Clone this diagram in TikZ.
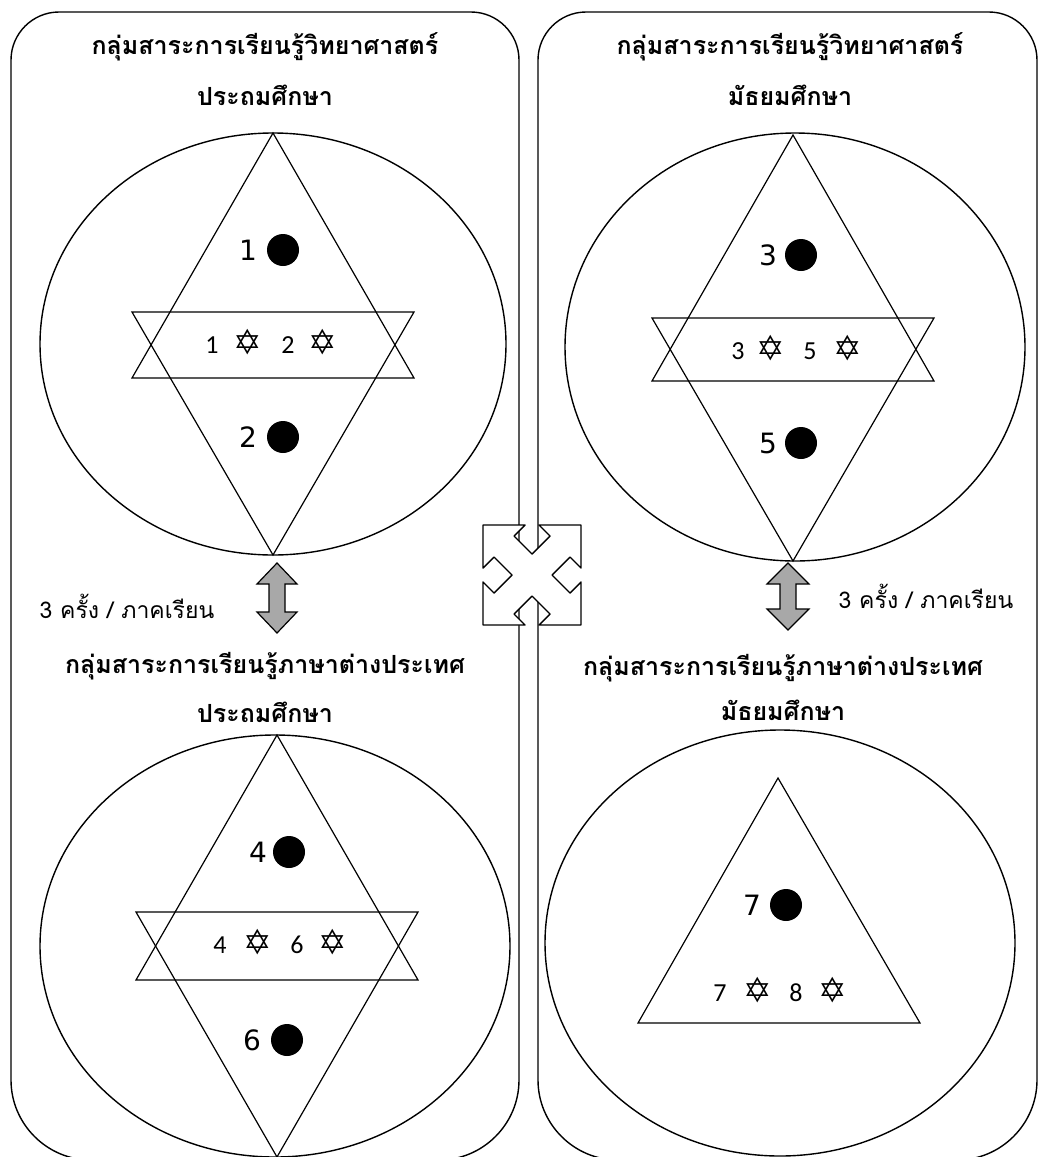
\documentclass[tikz,border=0pt]{standalone}
\usepackage{fontspec}
\setmainfont{DejaVu Sans}
\newfontfamily\thaifont[Script=Thai]{Loma}
\newfontfamily\symfont{DejaVu Sans}
\newfontfamily\bandfont{Carlito}
\newfontfamily\bigfont{DejaVu Sans}
\definecolor{arrowgray}{HTML}{A8A8A8}
\tikzset{
  ln/.style={line width=1.4pt, line join=round},
  thin/.style={line width=1.2pt, line join=miter},
  dot/.style={circle, fill=black, minimum size=32pt, inner sep=0pt},
  title/.style={font=\thaifont\bfseries\fontsize{25}{30}\selectfont, inner sep=0pt},
  lbl/.style={font=\thaifont\fontsize{23}{26}\selectfont, inner sep=0pt},
  bignum/.style={font=\bigfont\fontsize{28}{28}\selectfont, inner sep=0pt},
  bandnum/.style={font=\bandfont\fontsize{26}{26}\selectfont, inner sep=0pt},
  star/.style={font=\symfont\fontsize{34}{34}\selectfont, inner sep=0pt},
  dblarrow/.style={line width=1.2pt, fill=arrowgray, line join=miter}
}
\begin{document}
\begin{tikzpicture}[x=1pt, y=-1pt]
\useasboundingbox (0,0) rectangle (1040,1157);
\clip (0,0) rectangle (1040,1157);
\fill[white] (0,0) rectangle (1040,1157);

% panels
\draw[ln] (11,60) .. controls (11,33.6) and (32.6,12) .. (59,12) -- (471,12)
  .. controls (497.4,12) and (519,33.6) .. (519,60) -- (519,1080)
  .. controls (519,1124) and (483,1160) .. (439,1160) -- (91,1160)
  .. controls (47,1160) and (11,1124) .. (11,1080) -- cycle;
\draw[ln] (538,60) .. controls (538,33.6) and (559.6,12) .. (586,12) -- (989,12)
  .. controls (1015.4,12) and (1037,33.6) .. (1037,60) -- (1037,1080)
  .. controls (1037,1124) and (1001,1160) .. (957,1160) -- (618,1160)
  .. controls (574,1160) and (538,1124) .. (538,1080) -- cycle;

% ---------- top left ----------
\node[title] (t1a) at (265,47) {กลุ่มสาระการเรียนรู้วิทยาศาสตร์};
\node[title] (t1b) at (265,95) {ประถมศึกษา};
\draw[ln] (273,344) ellipse [x radius=233pt, y radius=211pt];
\draw[thin] (273,133) -- (132,378) -- (414,378) -- cycle;
\draw[thin] (132,312) -- (414,312) -- (273,555) -- cycle;
\node[bignum] (n1) at (248,250) {1};
\node[dot] (d1) at (283,250) {};
\node[bignum] (n2) at (248,437) {2};
\node[dot] (d2) at (283,437) {};
\node[bandnum] (b1a) at (212,345) {1};
\node[star] (s1a) at (248,342) {✡};
\node[bandnum] (b1b) at (288,345) {2};
\node[star] (s1b) at (323,342) {✡};

% ---------- top right ----------
\node[title] (t2a) at (790,47) {กลุ่มสาระการเรียนรู้วิทยาศาสตร์};
\node[title] (t2b) at (790,95) {มัธยมศึกษา};
\draw[ln] (795,347) ellipse [x radius=230pt, y radius=214pt];
\draw[thin] (793,135) -- (652,381) -- (934,381) -- cycle;
\draw[thin] (652,318) -- (934,318) -- (793,561) -- cycle;
\node[bignum] (n3) at (768,255) {3};
\node[dot] (d3) at (801,255) {};
\node[bignum] (n5) at (768,443) {5};
\node[dot] (d5) at (801,443) {};
\node[bandnum] (b2a) at (738,351) {3};
\node[star] (s2a) at (771,348) {✡};
\node[bandnum] (b2b) at (810,351) {5};
\node[star] (s2b) at (848,348) {✡};

% ---------- bottom left ----------
\node[title] (t3a) at (265,666) {กลุ่มสาระการเรียนรู้ภาษาต่างประเทศ};
\node[title] (t3b) at (265,712) {ประถมศึกษา};
\draw[ln] (275,946) ellipse [x radius=235pt, y radius=211pt];
\draw[thin] (277,735) -- (136,980) -- (418,980) -- cycle;
\draw[thin] (136,912) -- (418,912) -- (277,1157) -- cycle;
\node[bignum] (n4) at (258,852) {4};
\node[dot] (d4) at (289,852) {};
\node[bignum] (n6) at (252,1040) {6};
\node[dot] (d6) at (287,1040) {};
\node[bandnum] (b3a) at (220,945) {4};
\node[star] (s3a) at (258,942) {✡};
\node[bandnum] (b3b) at (297,945) {6};
\node[star] (s3b) at (333,942) {✡};

% ---------- bottom right ----------
\node[title] (t4a) at (783,668) {กลุ่มสาระการเรียนรู้ภาษาต่างประเทศ};
\node[title] (t4b) at (783,710) {มัธยมศึกษา};
\draw[ln] (780,943) ellipse [x radius=235pt, y radius=213pt];
\draw[thin] (778,778) -- (638,1023) -- (920,1023) -- cycle;
\node[bignum] (n7) at (752,905) {7};
\node[dot] (d7) at (786,905) {};
\node[bandnum] (b4a) at (720,993) {7};
\node[star] (s4a) at (758,990) {✡};
\node[bandnum] (b4b) at (796,993) {8};
\node[star] (s4b) at (833,990) {✡};

% ---------- double arrows and labels ----------
\draw[dblarrow] (277,563) -- (297,584) -- (285,584) -- (285,612) -- (297,612)
  -- (277,633) -- (257,612) -- (269,612) -- (269,584) -- (257,584) -- cycle;
\node[lbl] (l1) at (127,606) {3 ครั้ง / ภาคเรียน};
\draw[dblarrow] (788,563) -- (809,584) -- (796,584) -- (796,609) -- (809,609)
  -- (788,630) -- (767,609) -- (780,609) -- (780,584) -- (767,584) -- cycle;
\node[lbl] (l2) at (926,596) {3 ครั้ง / ภาคเรียน};

% ---------- centre icon ----------
\filldraw[ln, fill=white] (483,525) -- (525,525) -- (514,536) -- (532,554) -- (550,536) -- (539,525)
  -- (581,525) -- (581,568) -- (570,557) -- (552,575) -- (570,593) -- (581,582)
  -- (581,625) -- (539,625) -- (550,614) -- (532,596) -- (514,614) -- (525,625)
  -- (483,625) -- (483,582) -- (494,593) -- (512,575) -- (494,557) -- (483,568) -- cycle;
\end{tikzpicture}
\end{document}
